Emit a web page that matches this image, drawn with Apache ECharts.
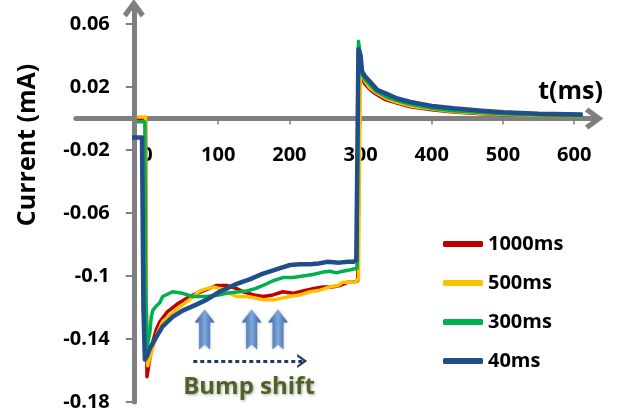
<!DOCTYPE html>
<html><head><meta charset="utf-8">
<script src="https://cdn.jsdelivr.net/npm/echarts@6/dist/echarts.min.js"></script>
<style>html,body{margin:0;padding:0;background:#fff}#c{width:625px;height:411px}</style>
</head><body><div id="c"></div>
<script>
// ---- data (t in ms, current in mA) ----
const seriesNames = ['1000ms', '500ms', '300ms', '40ms'];
const s1000 = [[-14,0],[-2,0],[-1,-0.12],[0,-0.164],[3,-0.155],[8,-0.142],[13,-0.134],[18,-0.129],[28,-0.123],[42,-0.118],[60,-0.113],[79,-0.1095],[98,-0.106],[112,-0.106],[126,-0.108],[135,-0.110],[150,-0.112],[163,-0.113],[177,-0.112],[191,-0.110],[205,-0.111],[219,-0.1095],[233,-0.108],[247,-0.107],[260,-0.107],[271,-0.106],[282,-0.104],[289,-0.104],[296,-0.103],[298,-0.103],[299,0.036],[302,0.026],[306,0.022],[312,0.019],[320,0.016],[335,0.012],[350,0.010],[370,0.0075],[400,0.0055],[430,0.0042],[470,0.003],[500,0.0025],[550,0.002],[612,0.0015]];
const s500 = [[-14,0.001],[-2,0.001],[-1,-0.12],[1,-0.157],[4,-0.152],[8,-0.146],[14,-0.137],[22,-0.129],[32,-0.125],[42,-0.121],[60,-0.115],[74,-0.1095],[84,-0.108],[93,-0.107],[103,-0.108],[112,-0.110],[126,-0.113],[140,-0.113],[152,-0.114],[163,-0.115],[180,-0.115],[200,-0.113],[215,-0.112],[229,-0.110],[243,-0.109],[256,-0.107],[268,-0.106],[275,-0.104],[285,-0.104],[292,-0.104],[297,-0.102],[299,-0.102],[300,0.038],[303,0.028],[306,0.024],[312,0.020],[320,0.017],[335,0.013],[350,0.0105],[370,0.008],[400,0.006],[430,0.0045],[470,0.0033],[500,0.0027],[550,0.002],[612,0.0016]];
const s300 = [[-14,-0.002],[-3,-0.002],[-2,-0.10],[0,-0.145],[4,-0.136],[6,-0.126],[8,-0.122],[13,-0.119],[18,-0.117],[22,-0.113],[36,-0.110],[50,-0.111],[64,-0.113],[84,-0.113],[100,-0.112],[112,-0.111],[129,-0.110],[140,-0.1095],[152,-0.108],[163,-0.106],[177,-0.103],[191,-0.101],[205,-0.101],[219,-0.100],[233,-0.099],[247,-0.0975],[257,-0.097],[266,-0.098],[275,-0.097],[286,-0.096],[295,-0.095],[296,-0.095],[297,0.049],[300,0.040],[302,0.028],[306,0.025],[312,0.022],[320,0.018],[335,0.014],[350,0.0115],[370,0.009],[400,0.0065],[430,0.005],[470,0.0038],[500,0.003],[550,0.0022],[612,0.0018]];
const s40 = [[-21,-0.012],[-7,-0.012],[-5,-0.12],[-3,-0.153],[0,-0.151],[4,-0.146],[14,-0.138],[22,-0.132],[36,-0.126],[50,-0.122],[70,-0.118],[84,-0.115],[102,-0.110],[126,-0.105],[145,-0.102],[160,-0.099],[173,-0.097],[187,-0.095],[201,-0.093],[215,-0.0925],[229,-0.0925],[241,-0.092],[253,-0.091],[270,-0.0915],[283,-0.091],[290,-0.091],[294,-0.090],[296,-0.090],[297,0.044],[300,0.040],[302,0.030],[306,0.027],[312,0.024],[320,0.020],[324,0.018],[335,0.016],[350,0.013],[370,0.0105],[400,0.008],[430,0.0065],[470,0.005],[500,0.004],[550,0.003],[612,0.0025]];
const xTicks = [0, 100, 200, 300, 400, 500, 600];
const yTicks = [0.06, 0.02, -0.02, -0.06, -0.1, -0.14, -0.18];
const bumpArrowT = [81, 147, 184];
const bumpArrowY = -0.134;
const shiftFrom = [65, -0.154];
const shiftTo = [218, -0.154];

const colors = ['#C00000', '#FFC000', '#00B050', '#1F4E89'];
const widths = [3.5, 3.5, 3.5, 4.5];
const allData = [s1000, s500, s300, s40];
const FONT = '"Open Sans", "Liberation Sans", sans-serif';
const chevronUp = 'path://M11,0 L22,15 L18,18.5 L11,8.5 L4,18.5 L0,15 Z';
const blockArrow = 'path://M10,0 L20,13 L15.5,13 L15.5,40 L10,35 L4.5,40 L4.5,13 L0,13 Z';
const axisGray = '#7F7F7F';

// geometry of the plot area (pixels)
const GRID_TOP = 8.3, GRID_H = 393.7;
const Y_MIN = -0.18, Y_MAX = 0.07;
const zeroOffset = -GRID_H * (0 - Y_MIN) / (Y_MAX - Y_MIN); // lift x axis line to y = 0

const chart = echarts.init(document.getElementById('c'), null, {renderer: 'canvas'});
const series = allData.map((d, i) => ({
  name: seriesNames[i], type: 'line', data: d, symbol: 'none', showSymbol: false,
  lineStyle: {color: colors[i], width: widths[i], join: 'round'}, itemStyle: {color: colors[i]},
  z: 3 + i, silent: true
}));
series[3].markPoint = {
  silent: true, symbol: blockArrow, symbolSize: [20, 40], label: {show: false},
  itemStyle: {opacity: 1, color: {type: 'linear', x: 0, y: 0, x2: 1, y2: 0, colorStops: [
    {offset: 0, color: '#2F5F9E'}, {offset: 0.5, color: '#7FA7DA'}, {offset: 1, color: '#2F5F9E'}]},
    shadowColor: 'rgba(0,0,0,0.3)', shadowBlur: 3},
  data: bumpArrowT.map(t => ({coord: [t, bumpArrowY]}))
};
series[3].markLine = {
  silent: true, symbol: ['none', 'path://M0,12 L8,0 L16,12 L13,12 L8,4.5 L3,12 Z'], symbolSize: [14, 10],
  label: {show: false},
  lineStyle: {color: '#1F3864', width: 3, type: [4, 3]},
  data: [[{coord: shiftFrom}, {coord: shiftTo}]]
};

chart.setOption({
  animation: false,
  backgroundColor: '#fff',
  grid: {left: 75.8, width: 518.3, top: GRID_TOP, height: GRID_H, outerBoundsMode: 'none', containLabel: false},
  xAxis: {
    type: 'value', min: -100, max: 628, interval: 100, offset: zeroOffset,
    splitLine: {show: false},
    axisLine: {onZero: false, lineStyle: {color: axisGray, width: 5}, symbol: ['none', chevronUp], symbolSize: [22, 22]},
    axisTick: {show: true, customValues: xTicks.slice(1), length: 6, lineStyle: {color: axisGray, width: 1.5}},
    axisLabel: {customValues: xTicks, margin: 27, fontSize: 20, fontWeight: 'bold', color: '#000', fontFamily: FONT}
  },
  yAxis: {
    type: 'value', min: Y_MIN, max: Y_MAX, interval: 0.04, offset: -58,
    splitLine: {show: false},
    axisLine: {onZero: false, lineStyle: {color: axisGray, width: 5}, symbol: ['none', chevronUp], symbolSize: [22, 20]},
    axisTick: {show: true, customValues: yTicks, length: 8, lineStyle: {color: axisGray, width: 2}},
    axisLabel: {customValues: yTicks, margin: 24, fontSize: 20, fontWeight: 'bold', color: '#000', fontFamily: FONT}
  },
  legend: {
    data: seriesNames, orient: 'vertical', left: 438, top: 229, itemWidth: 40, itemHeight: 6,
    icon: 'roundRect', itemGap: 19, selectedMode: false,
    textStyle: {fontSize: 20, fontWeight: 'bold', color: '#000', fontFamily: FONT}
  },
  graphic: [
    {type: 'text', x: 28, y: 145, rotation: Math.PI / 2, silent: true,
      style: {text: 'Current (mA)', align: 'center', verticalAlign: 'middle', fill: '#000',
        font: 'bold 25px "Open Sans", sans-serif'}},
    {type: 'text', x: 603, y: 92, silent: true,
      style: {text: 't(ms)', align: 'right', verticalAlign: 'middle', fill: '#000',
        font: 'bold 25px "Open Sans", sans-serif'}},
    {type: 'text', x: 249, y: 387, silent: true,
      style: {text: 'Bump shift', align: 'center', verticalAlign: 'middle', fill: '#4F6228',
        font: 'bold 24px "Open Sans", sans-serif', textShadowColor: 'rgba(0,0,0,0.35)', textShadowBlur: 3, textShadowOffsetX: 1, textShadowOffsetY: 1}}
  ],
  series: series
});
</script></body></html>
